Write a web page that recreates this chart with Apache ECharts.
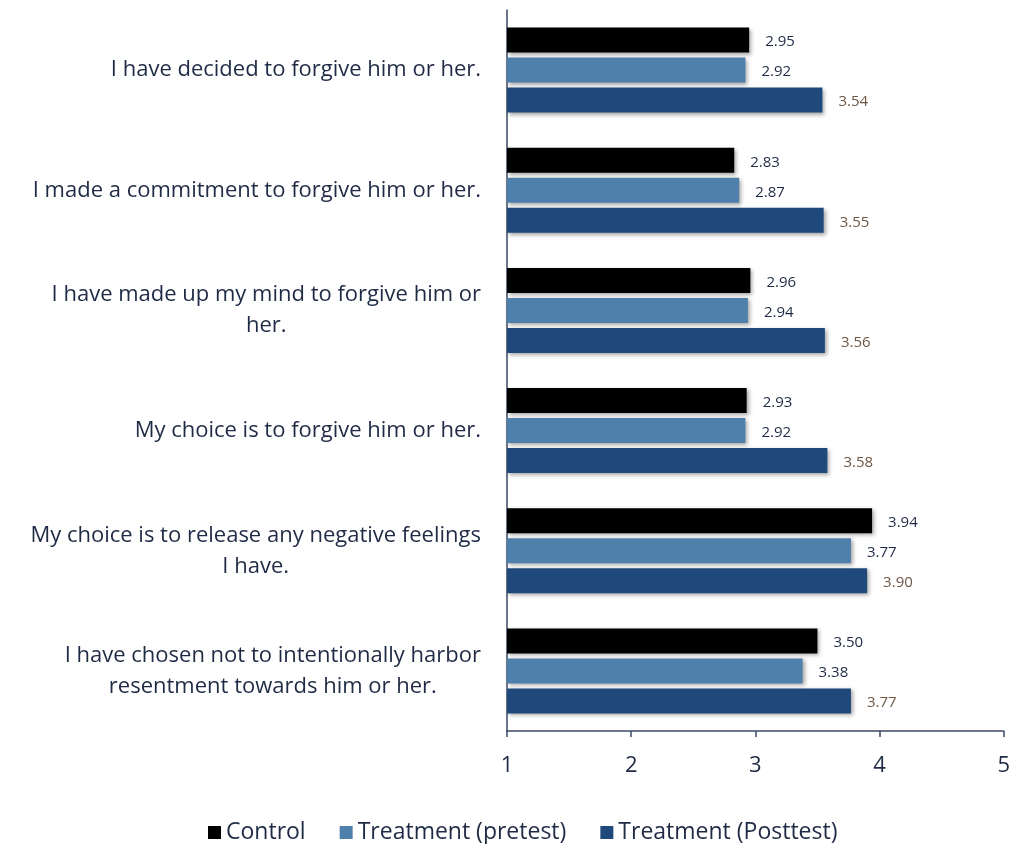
<!DOCTYPE html>
<html>
<head>
<meta charset="utf-8">
<script src="https://cdn.jsdelivr.net/npm/echarts@6/dist/echarts.min.js"></script>
<style>
  html, body { margin: 0; padding: 0; background: #ffffff; }
  #chart { width: 1013px; height: 844px; }
</style>
</head>
<body>
<div id="chart"></div>
<script>
// Survey items (wrapped lines) and mean scores per group
const categories = [
  'I have decided to forgive him or her.',
  'I made a commitment to forgive him or her.',
  'I have made up my mind to forgive him or\nher.',
  'My choice is to forgive him or her.',
  'My choice is to release any negative feelings\nI have.',
  'I have chosen not to intentionally harbor\nresentment towards him or her.'
];
const controlValues   = [2.95, 2.83, 2.96, 2.93, 3.94, 3.50];
const pretestValues   = [2.92, 2.87, 2.94, 2.92, 3.77, 3.38];
const posttestValues  = [3.54, 3.55, 3.56, 3.58, 3.90, 3.77];
const seriesNames = ['Control', 'Treatment (pretest)', 'Treatment (Posttest)'];
const xTicks = [1, 2, 3, 4, 5];

const FONT = '"Open Sans", "Noto Sans", sans-serif';
const TEXT = '#1f2b45';
const colors = ['#000000', '#4f7fab', '#1f497b'];
const valueLabelColors = ['#1f2b45', '#1f2b45', '#6e5644'];

// Each wrapped line becomes a centred rich token so multi-line labels stay centred in their block
function wrapLabel(value) {
  return value.split('\n').map(l => '{c|' + l + '}').join('\n');
}

function barSeries(name, values, idx) {
  return {
    name: name,
    type: 'bar',
    data: values,
    barWidth: 25,
    barGap: '20%',
    itemStyle: {
      color: colors[idx],
      shadowColor: 'rgba(0,0,0,0.35)',
      shadowBlur: 4,
      shadowOffsetX: 2,
      shadowOffsetY: 2
    },
    label: {
      show: true,
      position: 'right',
      distance: 16,
      formatter: p => p.value.toFixed(2),
      color: valueLabelColors[idx],
      fontFamily: FONT,
      fontSize: 15,
      offset: [0, 2]
    }
  };
}

const chart = echarts.init(document.getElementById('chart'), null, { renderer: 'canvas' });
chart.setOption({
  animation: false,
  backgroundColor: '#ffffff',
  color: colors,
  grid: { left: 507, right: 9, top: 10, bottom: 113, containLabel: false },
  legend: {
    top: 816,
    left: 203,
    itemWidth: 13,
    itemHeight: 13,
    itemGap: 34,
    icon: 'rect',
    textStyle: { color: TEXT, fontFamily: FONT, fontSize: 23 },
    data: seriesNames
  },
  xAxis: {
    type: 'value',
    min: xTicks[0],
    max: xTicks[xTicks.length - 1],
    interval: 1,
    splitLine: { show: false },
    axisLine: { show: true, lineStyle: { color: '#3c4a64', width: 1.5 } },
    axisTick: { show: true, length: 6, lineStyle: { color: '#3c4a64', width: 1.5 } },
    axisLabel: { color: TEXT, fontFamily: FONT, fontSize: 22, margin: 24 }
  },
  yAxis: {
    type: 'category',
    inverse: true,
    data: categories,
    axisLine: { show: true, lineStyle: { color: '#3c4a64', width: 1.5 } },
    axisTick: { show: false },
    axisLabel: {
      margin: 26,
      color: TEXT,
      fontFamily: FONT,
      fontSize: 22,
      lineHeight: 31,
      formatter: wrapLabel,
      rich: { c: { align: 'center', color: TEXT, fontFamily: FONT, fontSize: 22, lineHeight: 31 } }
    }
  },
  series: [
    barSeries(seriesNames[0], controlValues, 0),
    barSeries(seriesNames[1], pretestValues, 1),
    barSeries(seriesNames[2], posttestValues, 2)
  ]
});
</script>
</body>
</html>
